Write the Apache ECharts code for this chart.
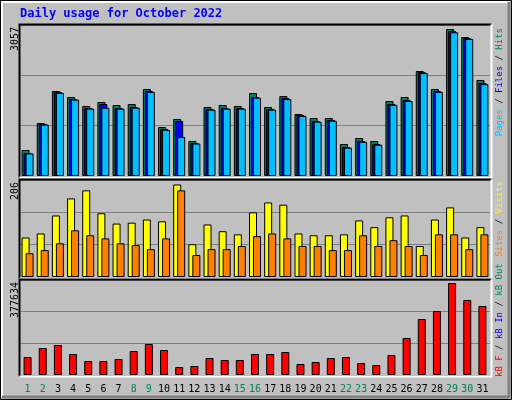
<!DOCTYPE html>
<html><head><meta charset="utf-8">
<script src="https://cdn.jsdelivr.net/npm/echarts@6/dist/echarts.min.js"></script>
<style>html,body{margin:0;padding:0;background:#c0c0c0}#c{width:512px;height:400px}</style>
</head><body><div id="c"></div>
<script>
const days = ['1','2','3','4','5','6','7','8','9','10','11','12','13','14','15','16','17','18','19','20','21','22','23','24','25','26','27','28','29','30','31'];
const weekend = ['1','2','8','9','15','16','22','23','29','30'];
const hits = [541,1102,1768,1643,1456,1539,1477,1498,1810,1019,1186,728,1435,1477,1456,1726,1435,1664,1290,1206,1206,666,790,728,1560,1643,2184,1810,3057,2891,1997];
const files = [478,1082,1747,1602,1414,1498,1414,1435,1768,978,1144,686,1394,1414,1414,1643,1394,1622,1269,1144,1165,603,728,666,1498,1581,2163,1768,3016,2870,1934];
const pages = [470,1070,1730,1590,1400,1420,1400,1420,1750,960,811,675,1380,1400,1400,1630,1380,1600,1250,1130,1150,590,710,650,1480,1560,2140,1750,2990,2850,1910];
const visits = [88,97,137,175,193,142,119,121,128,124,206,73,117,102,95,144,166,161,97,93,93,95,126,111,133,137,69,128,155,88,111];
const sites = [53,60,75,104,93,86,75,71,62,86,193,49,62,62,69,91,97,86,69,69,60,60,93,69,82,69,49,95,95,62,95];
const kbytes = [73890,110835,123150,86205,57470,57470,65680,98520,127255,102625,32840,36945,69785,61575,61575,86205,86205,94415,45155,53365,69785,73890,49260,41050,82100,151885,229880,262720,377634,307875,283245];
const maxLabels = ['3057','206','377634'];

const mono = 'DejaVu Sans Mono';
const grids = [
  {left:20, top:25, width:470, height:151},
  {left:20, top:180, width:470, height:97},
  {left:20, top:280, width:470, height:95}
];
const ymax = [3141, 216, 390000];
const chart = echarts.init(document.getElementById('c'));
const bs = {borderColor:'#000', borderWidth:1};
const graphics = [];
graphics.push({type:'rect', shape:{x:0.5,y:0.5,width:511,height:399}, style:{fill:'none', stroke:'#000', lineWidth:1}});
graphics.push({type:'polyline', shape:{points:[[2,397],[2,2],[509,2]]}, style:{stroke:'#fff', lineWidth:2, fill:null}});
graphics.push({type:'polyline', shape:{points:[[509,2],[509,397],[2,397]]}, style:{stroke:'#808080', lineWidth:3, fill:null}});
grids.forEach((g,i)=>{
  const x0=g.left, y0=g.top, x1=g.left+g.width, y1=g.top+g.height;
  graphics.push({type:'polyline', z:10, shape:{points:[[x0-0.5,y1+1.5],[x0-0.5,y0-0.5],[x1+1.5,y0-0.5]]}, style:{stroke:'#000', lineWidth:2, fill:null}});
  graphics.push({type:'polyline', z:10, shape:{points:[[x1+1.5,y0-0.5],[x1+1.5,y1+1.5],[x0-0.5,y1+1.5]]}, style:{stroke:'#fff', lineWidth:2, fill:null}});
  graphics.push({type:'text', x:15, y:y0+2, rotation:Math.PI/2, style:{text:maxLabels[i], font:'10px '+mono, fill:'#000', align:'right', verticalAlign:'middle'}});
});
const F = '9px '+mono;
const rl = (x,y,align,text)=>({type:'text', x:x, y:y, rotation:Math.PI/2, style:{text:text, rich:rich, font:F, align:align, verticalAlign:'middle'}});
const rich = {g:{fill:'#00805c',font:F},b:{fill:'#0000ff',font:F},c:{fill:'#00c0ff',font:F},k:{fill:'#000',font:F},y:{fill:'#ffff00',font:F},o:{fill:'#ff8000',font:F},r:{fill:'#ff0000',font:F}};
graphics.push(rl(500,28,'right','{c|Pages}{k| / }{b|Files}{k| / }{g|Hits}'));
graphics.push(rl(500,181,'right','{o|Sites}{k| / }{y|Visits}'));
graphics.push(rl(500,377,'left','{r|kB F}{k| / }{b|kB In}{k| / }{g|kB Out}'));
graphics.push({type:'text', x:20, y:14, style:{text:'Daily usage for October 2022', font:'bold 12px '+mono, fill:'#0000ff', verticalAlign:'middle'}});

chart.setOption({
  backgroundColor:'#c0c0c0',
  animation:false,
  grid: grids,
  xAxis: grids.map((g,i)=>({type:'category', gridIndex:i, data:days, axisLine:{show:false}, axisTick:{show:false},
    axisLabel:{show:i===2, interval:0, margin:9, fontFamily:mono, fontSize:10, color:(v)=>weekend.includes(v)?'#00805c':'#000'}})),
  yAxis: grids.map((g,i)=>({type:'value', gridIndex:i, min:0, max:ymax[i], interval:ymax[i]/3, axisLabel:{show:false}, axisLine:{show:false}, axisTick:{show:false},
    splitLine:{lineStyle:{color:'#808080', width:1}}})),
  graphic: graphics,
  series: [
    {type:'bar', xAxisIndex:0, yAxisIndex:0, data:hits, barWidth:8, barGap:'-75%', itemStyle:Object.assign({color:'#00805c'},bs)},
    {type:'bar', xAxisIndex:0, yAxisIndex:0, data:files, barWidth:8, barGap:'-75%', itemStyle:Object.assign({color:'#0000ff'},bs)},
    {type:'bar', xAxisIndex:0, yAxisIndex:0, data:pages, barWidth:8, barGap:'-75%', itemStyle:Object.assign({color:'#00c0ff'},bs)},
    {type:'bar', xAxisIndex:1, yAxisIndex:1, data:visits, barWidth:8, barGap:'-50%', itemStyle:Object.assign({color:'#ffff00'},bs)},
    {type:'bar', xAxisIndex:1, yAxisIndex:1, data:sites, barWidth:8, barGap:'-50%', itemStyle:Object.assign({color:'#ff8000'},bs)},
    {type:'bar', xAxisIndex:2, yAxisIndex:2, data:kbytes, barWidth:8, itemStyle:Object.assign({color:'#ff0000'},bs)}
  ]
});
</script></body></html>
